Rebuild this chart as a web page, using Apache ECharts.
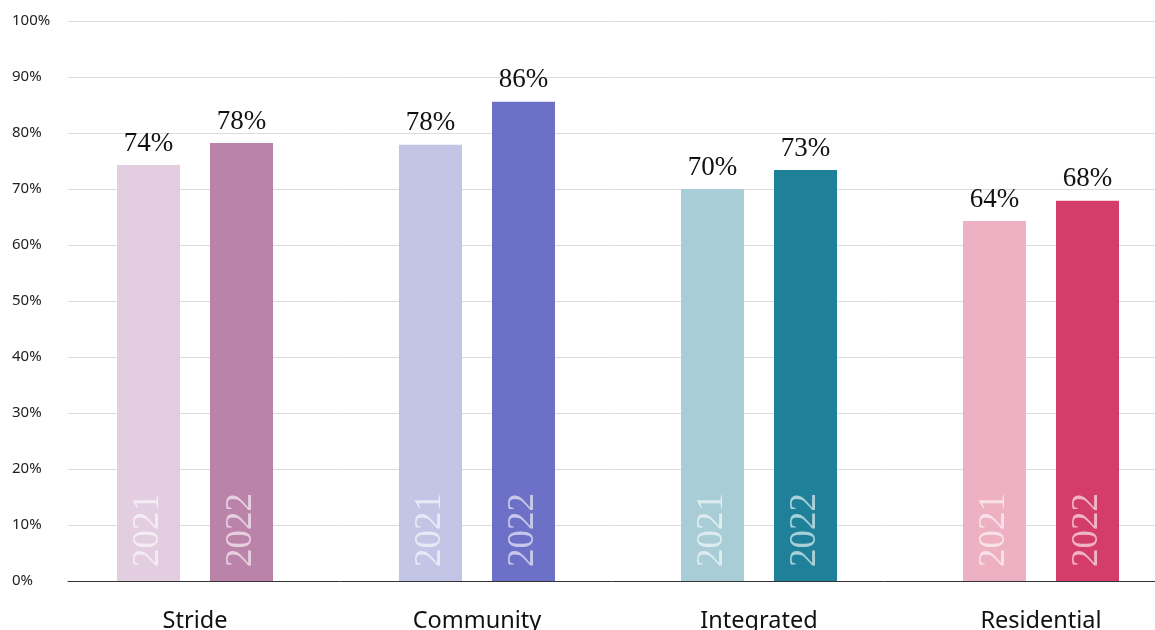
<!DOCTYPE html>
<html>
<head>
<meta charset="utf-8">
<script src="https://cdn.jsdelivr.net/npm/echarts@6/dist/echarts.min.js"></script>
<style>
  html, body { margin: 0; padding: 0; background: #fff; }
  #main { width: 1155px; height: 630px; }
</style>
</head>
<body>
<div id="main"></div>
<script>
const categories = ['Stride', 'Community', 'Integrated', 'Residential']
const years = ['2021', '2022']
const values2021 = [74.3, 77.9, 70.0, 64.3]
const values2022 = [78.2, 85.6, 73.4, 67.9]
const colors2021 = ['#e3cde0', '#c3c5e7', '#a8cdd7', '#edb1c3']
const colors2022 = ['#bc83aa', '#6c70c6', '#1e8199', '#d43c6a']

const chart = echarts.init(document.getElementById('main'))

function makeSeries(name, values, colors) {
  return {
    name: name,
    type: 'bar',
    xAxisIndex: 1,
    yAxisIndex: 1,
    barWidth: 63,
    barGap: '47.6%',
    data: values.map((v, i) => ({ value: v, itemStyle: { color: colors[i] } })),
    label: {
      show: true,
      position: 'top',
      distance: 8,
      fontFamily: 'Liberation Serif',
      fontSize: 27,
      color: '#111',
      formatter: p => Math.round(p.value) + '%'
    }
  }
}

// same bars again on a twin hidden axis, transparent, only to carry the rotated year text
function yearLabelSeries(name, values) {
  return {
    name: name + '-label',
    type: 'bar',
    xAxisIndex: 2,
    yAxisIndex: 1,
    barWidth: 63,
    barGap: '47.6%',
    silent: true,
    z: 3,
    itemStyle: { color: 'rgba(0,0,0,0)' },
    data: values,
    label: {
      show: true,
      position: 'insideBottom',
      rotate: 90,
      align: 'left',
      verticalAlign: 'middle',
      distance: 14,
      fontFamily: 'Liberation Serif',
      fontSize: 37,
      color: 'rgba(255,255,255,0.62)',
      formatter: () => name
    }
  }
}

const option = {
  animation: false,
  grid: [
    { left: 68, right: 0, top: 21, bottom: 49, outerBoundsMode: 'none' },
    { left: 54, width: 1128, top: 21, bottom: 49, outerBoundsMode: 'none' }
  ],
  xAxis: [
    {
      type: 'category',
      gridIndex: 0,
      data: categories,
      axisLine: { show: true, lineStyle: { color: '#333', width: 1 } },
      axisTick: { show: false },
      axisLabel: { show: false }
    },
    {
      type: 'category',
      gridIndex: 1,
      data: categories,
      axisLine: { show: false },
      axisTick: { show: false },
      axisLabel: {
        margin: 28,
        fontFamily: 'Noto Sans',
        fontSize: 23.5,
        color: '#111'
      }
    },
    {
      type: 'category',
      gridIndex: 1,
      data: categories,
      show: false
    }
  ],
  yAxis: [
    {
      type: 'value',
      gridIndex: 0,
      min: 0,
      max: 100,
      interval: 10,
      axisLine: { show: false },
      axisTick: { show: false },
      splitLine: { lineStyle: { color: '#dcdcdc', width: 1 } },
      axisLabel: {
        formatter: '{value}%',
        align: 'left',
        margin: 56,
        fontFamily: 'Noto Sans',
        fontSize: 15,
        color: '#222'
      }
    },
    {
      type: 'value',
      gridIndex: 1,
      min: 0,
      max: 100,
      show: false
    }
  ],
  series: [
    makeSeries(years[0], values2021, colors2021),
    makeSeries(years[1], values2022, colors2022),
    yearLabelSeries(years[0], values2021),
    yearLabelSeries(years[1], values2022)
  ]
}
chart.setOption(option)
</script>
</body>
</html>
